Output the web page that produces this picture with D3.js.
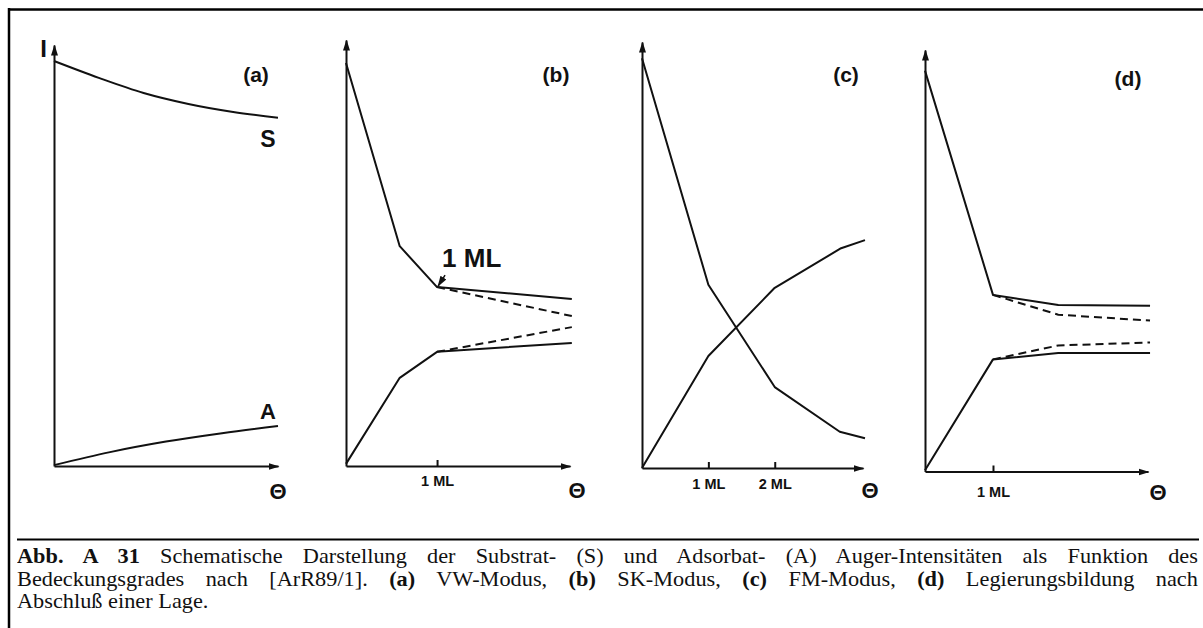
<!DOCTYPE html>
<html>
<head>
<meta charset="utf-8">
<script src="https://cdn.jsdelivr.net/npm/d3@7"></script>
<style>
  body { margin: 0; background: #fff; }
  #wrap { position: relative; width: 1203px; height: 628px; overflow: hidden; background: #fff; }
  #fig { position: absolute; left: 0; top: 0; }
  .cap { position: absolute; left: 17px; top: 545px; width: 1073.6px; transform: scaleX(1.1); transform-origin: 0 0;
         font-family: "Liberation Serif", "Times New Roman", serif; font-size: 20.3px; line-height: 22.5px; color: #111; }
  .cap .j { text-align: justify; text-align-last: justify; }
</style>
</head>
<body>
<div id="wrap">
  <svg id="fig" width="1203" height="628"></svg>
  <div class="cap" id="caption"></div>
</div>
<script>
// curve values: [coverage in ML, intensity in % of axis height]
const panelLabels = ["(a)", "(b)", "(c)", "(d)"];

const aSub = [[0, 96.2], [0.2, 92.2], [0.4, 88.6], [0.6, 86.0], [0.8, 84.1], [1.0, 82.7]];
const aAds = [[0, 0.2], [0.25, 3.3], [0.5, 5.8], [0.75, 7.8], [1.0, 9.5]];

const bSub = [[0, 94.6], [0.59, 51.6], [1.0, 42.0], [2.48, 39.2]];
const bSubDash = [[1.0, 42.0], [2.48, 35.2]];
const bAds = [[0, 0.5], [0.59, 20.7], [1.0, 26.8], [2.48, 28.9]];
const bAdsDash = [[1.0, 26.8], [2.48, 32.6]];

const cSub = [[0, 96.2], [1.0, 43.0], [2.0, 19.0], [2.98, 8.5], [3.36, 7.0]];
const cAds = [[0, 0], [1.0, 26.3], [2.0, 42.3], [3.0, 51.6], [3.36, 53.5]];

const dSub = [[0, 95.1], [1.0, 41.9], [1.96, 39.5], [3.31, 39.3]];
const dSubDash = [[1.0, 41.9], [1.96, 37.2], [3.31, 35.8]];
const dAds = [[0, 0.3], [1.0, 26.6], [1.96, 28.1], [3.31, 28.1]];
const dAdsDash = [[1.0, 26.6], [1.96, 29.9], [3.31, 30.6]];

const bTicks = [1];
const cTicks = [1, 2];
const dTicks = [1];

document.addEventListener('DOMContentLoaded', function() {
    const svg = d3.select("#fig");
    const ink = "#111";

    // outer frame (top + left) and caption rule
    svg.append("line").attr("x1", 8).attr("x2", 1203).attr("y1", 9.5).attr("y2", 9.5)
        .attr("stroke", "#000").attr("stroke-width", 2.5);
    svg.append("line").attr("x1", 9).attr("x2", 9).attr("y1", 8).attr("y2", 628)
        .attr("stroke", "#000").attr("stroke-width", 2.5);
    svg.append("line").attr("x1", 17).attr("x2", 1199).attr("y1", 539.5).attr("y2", 539.5)
        .attr("stroke", "#000").attr("stroke-width", 2);

    svg.append("defs").append("marker")
        .attr("id", "arr")
        .attr("viewBox", "0 -4 11 8")
        .attr("refX", 10).attr("refY", 0)
        .attr("markerUnits", "userSpaceOnUse")
        .attr("markerWidth", 11).attr("markerHeight", 8)
        .attr("orient", "auto")
        .append("path").attr("d", "M0,-3.5L11,0L0,3.5Z").attr("fill", ink);

    const panels = [
        {x0: 54, x1: 278, xMax: 1, y0: 466, y1: 45, ticks: [], tickPad: 12, theta: [278, 491], label: [256, 82],
         solid: [aSub, aAds], dashed: [], smooth: true},
        {x0: 346, x1: 570, xMax: 2.46, y0: 466, y1: 40, ticks: bTicks, tickPad: 10, theta: [577, 490], label: [556, 82],
         solid: [bSub, bAds], dashed: [bSubDash, bAdsDash]},
        {x0: 642, x1: 863, xMax: 3.33, y0: 468, y1: 42, ticks: cTicks, tickPad: 11, theta: [870, 490], label: [846, 82],
         solid: [cSub, cAds], dashed: []},
        {x0: 925, x1: 1148, xMax: 3.28, y0: 471.5, y1: 50, ticks: dTicks, tickPad: 15, theta: [1158, 492], label: [1128, 86],
         solid: [dSub, dAds], dashed: [dSubDash, dAdsDash]}
    ];

    panels.forEach((p, i) => {
        const x = d3.scaleLinear().domain([0, p.xMax]).range([p.x0, p.x1]);
        const y = d3.scaleLinear().domain([0, 100]).range([p.y0, p.y1]);
        p.x = x; p.y = y;
        const g = svg.append("g");

        const line = d3.line()
            .x(d => x(d[0]))
            .y(d => y(d[1]))
            .curve(p.smooth ? d3.curveMonotoneX : d3.curveLinear);

        g.selectAll("path.solid")
            .data(p.solid)
            .join("path")
            .attr("class", "solid")
            .attr("d", line)
            .attr("fill", "none")
            .attr("stroke", ink)
            .attr("stroke-width", 2)
            .attr("stroke-linejoin", "round");

        g.selectAll("path.dash")
            .data(p.dashed)
            .join("path")
            .attr("class", "dash")
            .attr("d", line)
            .attr("fill", "none")
            .attr("stroke", ink)
            .attr("stroke-width", 2)
            .attr("stroke-dasharray", "8,5");

        const xAxis = g.append("g")
            .attr("transform", `translate(0,${p.y0})`)
            .call(d3.axisBottom(x).tickValues(p.ticks).tickFormat(d => d + " ML")
                .tickSizeInner(-6).tickSizeOuter(0).tickPadding(p.tickPad));
        xAxis.select(".domain").attr("stroke", ink).attr("stroke-width", 2).attr("marker-end", "url(#arr)");
        xAxis.selectAll(".tick line").attr("stroke", ink).attr("stroke-width", 2);
        xAxis.selectAll(".tick text")
            .attr("fill", ink)
            .style("font-family", "'Liberation Sans', Arial, sans-serif")
            .style("font-size", "14.5px")
            .style("font-weight", "bold");

        const yAxis = g.append("g")
            .attr("transform", `translate(${p.x0},0)`)
            .call(d3.axisLeft(y).tickValues([]).tickSizeOuter(0));
        yAxis.select(".domain").attr("stroke", ink).attr("stroke-width", 2).attr("marker-end", "url(#arr)");

        g.append("text")
            .attr("x", p.theta[0]).attr("y", p.theta[1])
            .attr("text-anchor", "middle").attr("dominant-baseline", "central")
            .style("font-family", "'Liberation Sans', Arial, sans-serif")
            .style("font-size", "22px").style("font-weight", "bold")
            .attr("fill", ink)
            .text("Θ");

        g.append("text")
            .attr("x", p.label[0]).attr("y", p.label[1])
            .attr("text-anchor", "middle")
            .style("font-family", "'Liberation Sans', Arial, sans-serif")
            .style("font-size", "21px").style("font-weight", "bold")
            .attr("fill", ink)
            .text(panelLabels[i]);
    });

    // extra labels in (a)
    const pa = panels[0];
    const labelStyle = sel => sel
        .style("font-family", "'Liberation Sans', Arial, sans-serif")
        .style("font-weight", "bold")
        .attr("fill", ink);
    svg.append("text").attr("x", 43.5).attr("y", 57).attr("text-anchor", "middle")
        .style("font-size", "24px").call(labelStyle).text("I");
    svg.append("text").attr("x", 268).attr("y", 147).attr("text-anchor", "middle")
        .style("font-size", "23px").call(labelStyle).text("S");
    svg.append("text").attr("x", pa.x(aAds[aAds.length - 1][0]) - 10).attr("y", 419).attr("text-anchor", "middle")
        .style("font-size", "22px").call(labelStyle).text("A");

    // "1 ML" annotation with small arrow in (b)
    const pb = panels[1];
    const kx = pb.x(bSub[2][0]), ky = pb.y(bSub[2][1]);
    svg.append("text").attr("x", kx + 5).attr("y", ky - 20).style("font-size", "26px").call(labelStyle).text("1 ML");
    svg.append("line")
        .attr("x1", kx + 8).attr("y1", ky - 12).attr("x2", kx + 1).attr("y2", ky - 1)
        .attr("stroke", ink).attr("stroke-width", 1.5).attr("marker-end", "url(#arr)");

    // caption
    const cap = d3.select("#caption");
    cap.append("div").attr("class", "j")
        .html("<b>Abb. A 31</b> Schematische Darstellung der Substrat- (S) und Adsorbat- (A) Auger-Intensitäten als Funktion des");
    cap.append("div").attr("class", "j")
        .html("Bedeckungsgrades nach [ArR89/1]. <b>(a)</b> VW-Modus, <b>(b)</b> SK-Modus, <b>(c)</b> FM-Modus, <b>(d)</b> Legierungsbildung nach");
    cap.append("div").text("Abschluß einer Lage.");
});
</script>
</body>
</html>
